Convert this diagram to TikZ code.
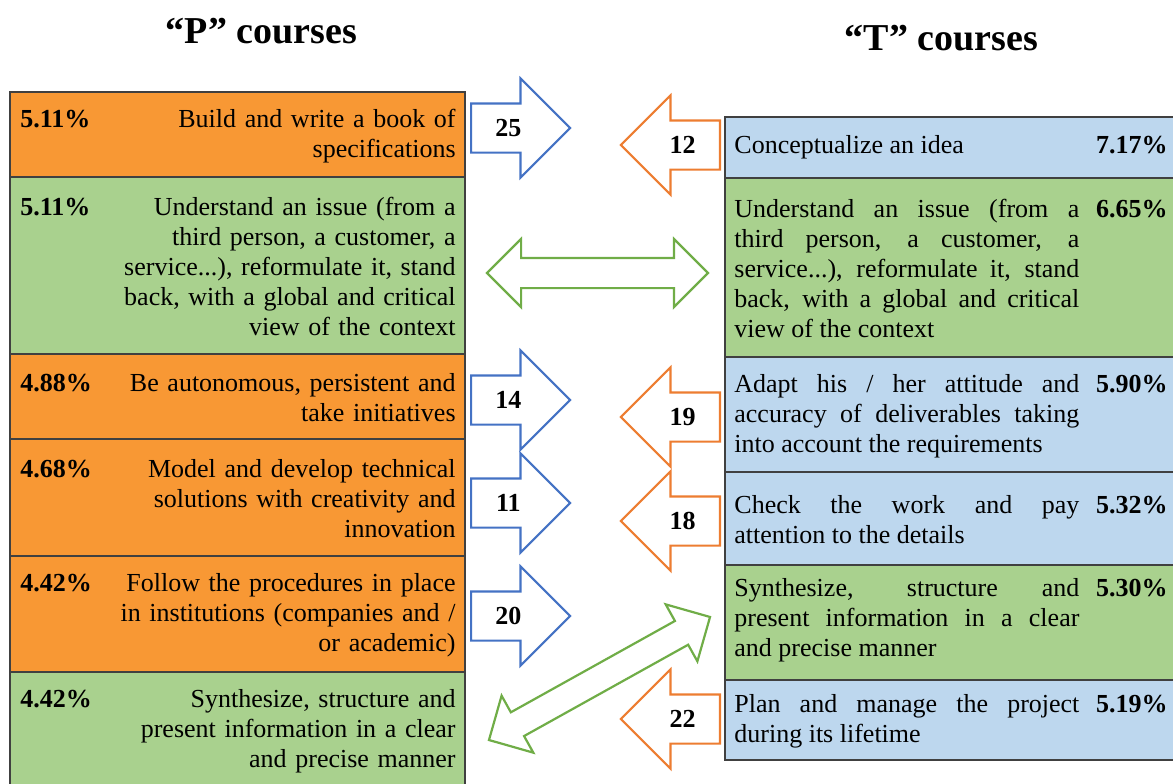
\documentclass[tikz,border=0pt]{standalone}
\usepackage{fontspec}
\setmainfont{Liberation Serif}
\usetikzlibrary{positioning, shapes.arrows, calc}

\definecolor{pOrange}{RGB}{248,152,52}
\definecolor{cGreen}{RGB}{169,209,142}
\definecolor{tBlue}{RGB}{189,215,238}
\definecolor{cellLine}{RGB}{64,64,64}
\definecolor{arrBlue}{RGB}{68,114,196}
\definecolor{arrOrange}{RGB}{237,125,49}
\definecolor{arrGreen}{RGB}{112,173,71}

\begin{document}
\begin{tikzpicture}[
        x=0.5pt, y=-0.5pt,
        font=\fontsize{13}{15}\selectfont,
        cell/.style={draw=cellLine, line width=0.6pt, minimum width=227.5pt, inner sep=0pt, outer sep=0pt},
        ptext/.style={text width=172pt, align=right, inner xsep=4.5pt, inner ysep=0pt, anchor=east},
        ttext/.style={text width=172.5pt, align=justify, inner xsep=4.5pt, inner ysep=0pt, anchor=west},
        pct/.style={font=\fontsize{13}{15}\selectfont\bfseries, inner xsep=5pt, inner ysep=0pt},
        title/.style={font=\fontsize{19}{22}\selectfont\bfseries, anchor=base},
        block/.style={single arrow, fill=white, line width=1.1pt, inner xsep=2pt, inner ysep=0pt,
            text height=16pt, text depth=7.5pt, single arrow head extend=12.5pt,
            minimum height=49.5pt, font=\fontsize{13}{15}\selectfont\bfseries},
        toT/.style={block, draw=arrBlue, anchor=tail},
        toP/.style={block, draw=arrOrange, shape border rotate=180, anchor=tail},
        both/.style={double arrow, draw=arrGreen, fill=white, line width=1.1pt, inner sep=0pt,
            text height=14pt, text depth=0pt, double arrow head extend=9.5pt}
    ]

        % === PAGE FRAME ===
        \useasboundingbox (0,0) rectangle (1173,783);
        \clip (0,0) rectangle (1173,783);

        % === 1. "P" COURSES (left column) ===
        \node[title] (PTitle) at (261.5,43) {``P'' courses};

        \node[cell, fill=pOrange, minimum height=42.5pt, anchor=north west] (P1) at (10,92) {};
        \node[cell, fill=cGreen, minimum height=88.5pt, below=0pt of P1] (P2) {};
        \node[cell, fill=pOrange, minimum height=42.5pt, below=0pt of P2] (P3) {};
        \node[cell, fill=pOrange, minimum height=58.5pt, below=0pt of P3] (P4) {};
        \node[cell, fill=pOrange, minimum height=58pt, below=0pt of P4] (P5) {};
        \node[cell, fill=cGreen, minimum height=60pt, below=0pt of P5] (P6) {};

        \node[ptext] (P1txt) at (P1.east) {\strut Build and write a book of\\ specifications};
        \node[ptext] (P2txt) at (P2.east) {\strut Understand an issue (from a\\ third person, a customer, a\\
            service...), reformulate it, stand\\ back, with a global and critical\\ view of the context};
        \node[ptext] (P3txt) at (P3.east) {\strut Be autonomous, persistent and\\ take initiatives};
        \node[ptext] (P4txt) at (P4.east) {\strut Model and develop technical\\ solutions with creativity and\\ innovation};
        \node[ptext] (P5txt) at (P5.east) {\strut Follow the procedures in place\\ in institutions (companies and /\\ or academic)};
        \node[ptext] (P6txt) at ($(P6.east)+(0,-2)$) {\strut Synthesize, structure and\\ present information in a clear\\ and precise manner};

        \node[pct, anchor=north west] (P1pct) at (P1txt.north -| P1.west) {\strut 5.11\%};
        \node[pct, anchor=north west] (P2pct) at (P2txt.north -| P2.west) {\strut 5.11\%};
        \node[pct, anchor=north west] (P3pct) at (P3txt.north -| P3.west) {\strut 4.88\%};
        \node[pct, anchor=north west] (P4pct) at (P4txt.north -| P4.west) {\strut 4.68\%};
        \node[pct, anchor=north west] (P5pct) at (P5txt.north -| P5.west) {\strut 4.42\%};
        \node[pct, anchor=north west] (P6pct) at (P6txt.north -| P6.west) {\strut 4.42\%};

        % === 2. "T" COURSES (right column) ===
        \node[title] (TTitle) at (941.5,50) {``T'' courses};

        \node[cell, fill=tBlue, minimum height=30.5pt, anchor=north west] (T1) at (725,117) {};
        \node[cell, fill=cGreen, minimum height=89.5pt, below=0pt of T1] (T2) {};
        \node[cell, fill=tBlue, minimum height=57.5pt, below=0pt of T2] (T3) {};
        \node[cell, fill=tBlue, minimum height=46.5pt, below=0pt of T3] (T4) {};
        \node[cell, fill=cGreen, minimum height=57.5pt, below=0pt of T4] (T5) {};
        \node[cell, fill=tBlue, minimum height=40pt, below=0pt of T5] (T6) {};

        \node[ttext] (T1txt) at (T1.west) {\strut Conceptualize an idea};
        \node[ttext] (T2txt) at (T2.west) {\strut Understand an issue (from a \linebreak third person, a customer, a
            \linebreak service...), reformulate it, stand \linebreak back, with a global and critical
            \linebreak view of the context};
        \node[ttext] (T3txt) at (T3.west) {\strut Adapt his / her attitude and \linebreak accuracy of deliverables taking
            \linebreak into account the requirements};
        \node[ttext] (T4txt) at (T4.west) {\strut Check the work and pay \linebreak attention to the details};
        \node[ttext] (T5txt) at ($(T5.west)+(0,-4)$) {\strut Synthesize, structure and \linebreak present information in a clear
            \linebreak and precise manner};
        \node[ttext] (T6txt) at (T6.west) {\strut Plan and manage the project \linebreak during its lifetime};

        \node[pct, anchor=north east, inner xsep=2.5pt] (T1pct) at (T1txt.north -| 1173,0) {\strut 7.17\%};
        \node[pct, anchor=north east, inner xsep=2.5pt] (T2pct) at (T2txt.north -| 1173,0) {\strut 6.65\%};
        \node[pct, anchor=north east, inner xsep=2.5pt] (T3pct) at (T3txt.north -| 1173,0) {\strut 5.90\%};
        \node[pct, anchor=north east, inner xsep=2.5pt] (T4pct) at (T4txt.north -| 1173,0) {\strut 5.32\%};
        \node[pct, anchor=north east, inner xsep=2.5pt] (T5pct) at (T5txt.north -| 1173,0) {\strut 5.30\%};
        \node[pct, anchor=north east, inner xsep=2.5pt] (T6pct) at (T6txt.north -| 1173,0) {\strut 5.19\%};

        % === 3. BLOCK ARROWS ===
        % P -> T
        \node[toT] (A25) at (470,128) {25};
        \node[toT] (A14) at (470,400) {14};
        \node[toT] (A11) at (470,503) {11};
        \node[toT] (A20) at (470,616) {20};
        % T -> P
        \node[toP] (A12) at (721,145) {12};
        \node[toP] (A19) at (721,417) {19};
        \node[toP] (A18) at (721,521) {18};
        \node[toP] (A22) at (721,719) {22};
        % shared skills
        \node[both, minimum height=110.5pt] (BothIssue) at (597.5,273) {};
        \node[both, minimum height=126.5pt, text height=12.5pt, rotate=29.1] (BothSynth) at (599.5,678.5) {};

    \end{tikzpicture}
\end{document}
